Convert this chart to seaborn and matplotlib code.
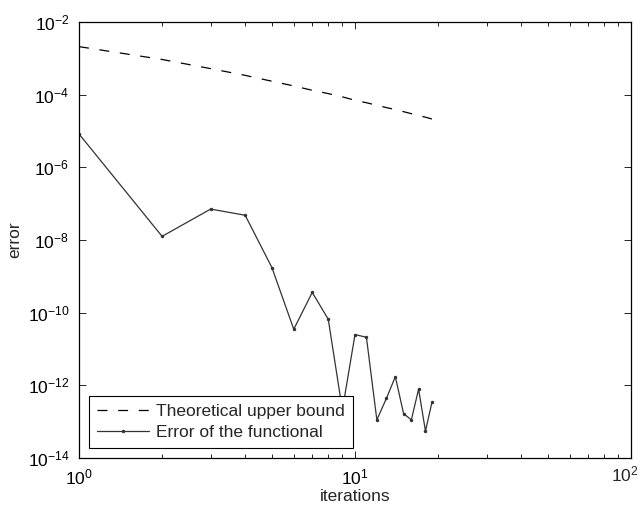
import pandas as pd
import matplotlib
matplotlib.use("Agg")
import matplotlib.pyplot as plt
import seaborn as sns
import numpy as np
from matplotlib.ticker import LogLocator, NullFormatter, FuncFormatter

iterations = list(range(1, 20))
upper_bound = [2.1e-3, 9.3e-4, 5.2e-4, 3.4e-4, 2.34e-4, 1.74e-4, 1.32e-4, 1.07e-4, 8.7e-5, 7.0e-5,
               6.0e-5, 5.1e-5, 4.4e-5, 3.9e-5, 3.4e-5, 3.0e-5, 2.65e-5, 2.4e-5, 2.14e-5]
functional_error = [8.3e-6, 1.26e-8, 7.1e-8, 4.8e-8, 1.74e-9, 3.5e-11, 3.6e-10, 6.6e-11, 2.1e-13, 2.5e-11,
                    2.1e-11, 1.12e-13, 4.4e-13, 1.73e-12, 1.66e-13, 1.12e-13, 7.9e-13, 5.5e-14, 3.4e-13]
x_ticks = [1, 10, 100]

df = pd.DataFrame({'iterations': iterations, 'bound': upper_bound, 'err': functional_error})

sns.set_style('ticks')
plt.rcParams['font.family'] = ['Liberation Sans', 'DejaVu Sans']
plt.rcParams['mathtext.fontset'] = 'custom'
plt.rcParams['mathtext.rm'] = 'Liberation Sans'
plt.rcParams['mathtext.it'] = 'Liberation Sans'

fig = plt.figure(figsize=(6.41, 5.12), dpi=100)
ax = fig.add_axes([79/641, 54/512, 552/641, 436/512])

sns.lineplot(data=df, x='iterations', y='bound', ax=ax, color='black', linewidth=0.9,
             label='Theoretical upper bound')
ax.lines[0].set_dashes([8, 8.5])
sns.lineplot(data=df, x='iterations', y='err', ax=ax, color='#333333', linewidth=0.9,
             marker='o', markersize=2.5, markeredgewidth=0, label='Error of the functional')

ax.set_xscale('log')
ax.set_yscale('log')
ax.set_xlim(1, 100)
ax.set_ylim(1e-14, 1e-2)
ax.set_xticks(x_ticks)
ax.set_yticks([1e-14, 1e-12, 1e-10, 1e-8, 1e-6, 1e-4, 1e-2])
ax.yaxis.set_minor_locator(plt.NullLocator())
ax.xaxis.set_minor_locator(LogLocator(base=10, subs=np.arange(2, 10)))
ax.xaxis.set_minor_formatter(NullFormatter())
# last x label is drawn separately so it stays inside the figure
ax.xaxis.set_major_formatter(FuncFormatter(
    lambda v, p: '' if v >= x_ticks[-1] else r'$10^{%d}$' % round(np.log10(v))))
ax.tick_params(which='both', direction='in', top=True, right=True, labelsize=12.5, colors='black')
ax.tick_params(which='major', length=5, width=0.6, pad=7)
ax.tick_params(which='minor', length=3, width=0.6)
for s in ax.spines.values():
    s.set_visible(True)
    s.set_linewidth(0.9)
    s.set_color('black')
ax.annotate(r'$10^{%d}$' % round(np.log10(x_ticks[-1])), xy=(x_ticks[-1], 0),
            xycoords=ax.get_xaxis_transform(), xytext=(-4.5, -5), textcoords='offset points',
            ha='center', va='top', fontsize=12.5)
ax.set_xlabel('iterations', fontsize=12.5, labelpad=1)
ax.set_ylabel('error', fontsize=12.5, labelpad=4)

leg = ax.legend(loc='lower left', fontsize=12.5, fancybox=False, framealpha=1,
                handlelength=3, borderpad=0.45, labelspacing=0.3, handletextpad=0.4,
                borderaxespad=0.6)
leg.get_frame().set_edgecolor('black')
leg.get_frame().set_linewidth(0.8)

plt.savefig('out.png', dpi=100)
